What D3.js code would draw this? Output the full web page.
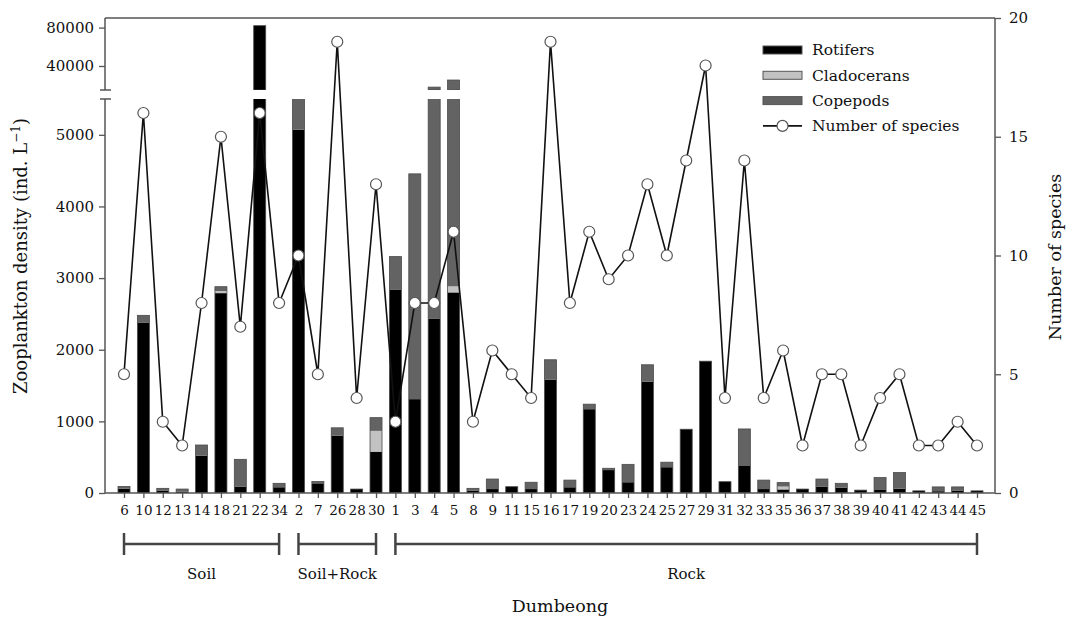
<!DOCTYPE html>
<html>
<head>
<meta charset="utf-8">
<script src="https://cdn.jsdelivr.net/npm/d3@7"></script>
<style>
  body { margin: 0; background: #fff; }
  svg { display: block; font-family: "DejaVu Serif", "Liberation Serif", serif; }
</style>
</head>
<body>
<svg width="1068" height="622"></svg>
<script>
// site ids in plotted order
var sites = ["6","10","12","13","14","18","21","22","34",
             "2","7","26","28","30",
             "1","3","4","5","8","9","11","15","16","17","19","20","23","24","25","27","29","31","32","33","35","36","37","38","39","40","41","42","43","44","45"];
// ind. per L
var rotifers    = [60,2380,30,20,520,2790,90,82000,80, 5070,135,800,55,577, 2835,1310,2430,2800,30,55,88,55,1580,80,1170,320,150,1555,360,890,1840,158,377,55,50,55,90,75,40,50,60,30,25,30,30];
var cladocerans = [0,0,0,0,0,30,0,0,0, 0,0,0,0,290, 0,0,0,85,0,0,0,0,0,0,0,0,0,0,0,0,0,0,0,0,40,0,0,0,0,0,0,0,0,0,0];
var copepods    = [30,100,35,35,150,60,380,0,55, 1000,25,110,0,185, 465,3145,15570,22500,35,140,0,95,280,100,70,25,250,235,70,0,0,0,517,125,55,0,105,60,0,165,225,0,60,55,0];
var species     = [5,16,3,2,8,15,7,16,8, 10,5,19,4,13, 3,8,8,11,3,6,5,4,19,8,11,9,10,13,10,14,18,4,14,4,6,2,5,5,2,4,5,2,2,3,2];
var groups = [{name:"Soil", from:"6", to:"34"}, {name:"Soil+Rock", from:"2", to:"30"}, {name:"Rock", from:"1", to:"45"}];
var lowTicks = [0,1000,2000,3000,4000,5000];
var highTicks = [40000,80000];
var rightTicks = [0,5,10,15,20];

var svg = d3.select("svg");
var pl = 105, pr = 995, pt = 18, pb = 493;
var gapLo = 99, gapHi = 90;   // axis break

var x = d3.scalePoint().domain(sites).range([124, 977]);
var yLow = d3.scaleLinear().domain([0, 5500]).range([pb, gapLo]);
var yHigh = d3.scaleLinear().domain([15000, 90000]).range([gapHi, pt]);
var yR = d3.scaleLinear().domain([0, 20]).range([pb, pt]);
var barW = 12;

var keys = ["rot","cla","cop"];
var colors = {rot:"#000", cla:"#c2c2c2", cop:"#636363"};
var rows = sites.map(function(s,i){ return {site:s, rot:rotifers[i], cla:cladocerans[i], cop:copepods[i], sp:species[i]}; });
var stack = d3.stack().keys(keys)(rows);

var defs = svg.append("defs");
defs.append("clipPath").attr("id","clipLow").append("rect")
  .attr("x", pl).attr("y", gapLo).attr("width", pr-pl).attr("height", pb-gapLo);
defs.append("clipPath").attr("id","clipHigh").append("rect")
  .attr("x", pl).attr("y", pt).attr("width", pr-pl).attr("height", gapHi-pt);

function drawBars(scale, clip) {
  var g = svg.append("g").attr("clip-path","url(#"+clip+")");
  g.selectAll("g.layer").data(stack).enter().append("g")
    .attr("class","layer")
    .attr("fill", function(d){ return colors[d.key]; })
    .selectAll("rect").data(function(d){ return d; }).enter()
    .filter(function(d){ return d[1] > d[0]; })
    .append("rect")
      .attr("x", function(d){ return x(d.data.site) - barW/2; })
      .attr("width", barW)
      .attr("y", function(d){ return scale(d[1]); })
      .attr("height", function(d){ return scale(d[0]) - scale(d[1]); });
  // outline
  g.selectAll("rect.outline").data(rows).enter().append("rect")
    .attr("class","outline")
    .attr("x", function(d){ return x(d.site) - barW/2; })
    .attr("width", barW)
    .attr("y", function(d){ return scale(d.rot+d.cla+d.cop); })
    .attr("height", function(d){ return Math.max(0, scale(scale.domain()[0]) - scale(d.rot+d.cla+d.cop)); })
    .attr("fill","none").attr("stroke","#4a4a4a").attr("stroke-width",0.8);
}
drawBars(yLow, "clipLow");
drawBars(yHigh, "clipHigh");

// frame + axes
var axisCol = "#555";
svg.append("line").attr("x1",pl).attr("x2",pr).attr("y1",pt).attr("y2",pt)
  .attr("stroke",axisCol).attr("stroke-width",1.5);
svg.append("line").attr("x1",pl).attr("x2",pr).attr("y1",pb).attr("y2",pb)
  .attr("stroke",axisCol).attr("stroke-width",1.5);
svg.append("line").attr("x1",pl).attr("x2",pl).attr("y1",gapLo).attr("y2",pb)
  .attr("stroke",axisCol).attr("stroke-width",1.5);
svg.append("line").attr("x1",pl).attr("x2",pl).attr("y1",pt).attr("y2",gapHi)
  .attr("stroke",axisCol).attr("stroke-width",1.5);
[gapHi, gapLo].forEach(function(y){
  svg.append("line").attr("x1",pl-5).attr("x2",pl+6).attr("y1",y).attr("y2",y)
    .attr("stroke",axisCol).attr("stroke-width",1.5);
});
svg.append("line").attr("x1",pr).attr("x2",pr).attr("y1",pt).attr("y2",pb)
  .attr("stroke",axisCol).attr("stroke-width",1.5);

function styleAxis(g, size) {
  g.select(".domain").remove();
  g.selectAll(".tick line").attr("stroke",axisCol).attr("stroke-width",1.3);
  g.selectAll(".tick text").attr("fill","#111")
    .style("font-family",'"DejaVu Serif", serif').style("font-size", size+"px");
}
svg.append("g").attr("transform","translate("+pl+",0)")
  .call(d3.axisLeft(yLow).tickValues(lowTicks).tickSize(6).tickPadding(5).tickFormat(d3.format("d")))
  .call(styleAxis, 15);
svg.append("g").attr("transform","translate("+pl+",0)")
  .call(d3.axisLeft(yHigh).tickValues(highTicks).tickSize(6).tickPadding(5).tickFormat(d3.format("d")))
  .call(styleAxis, 15);
svg.append("g").attr("transform","translate("+pr+",0)")
  .call(d3.axisRight(yR).tickValues(rightTicks).tickSize(6).tickPadding(8))
  .call(styleAxis, 15);
svg.append("g").attr("transform","translate(0,"+pb+")")
  .call(d3.axisBottom(x).tickSize(5).tickPadding(7))
  .call(styleAxis, 13.5);

// species line
svg.append("path").datum(rows)
  .attr("fill","none").attr("stroke","#111").attr("stroke-width",1.6)
  .attr("d", d3.line().x(function(d){ return x(d.site); }).y(function(d){ return yR(d.sp); }));
svg.selectAll("circle.sp").data(rows).enter().append("circle")
  .attr("class","sp")
  .attr("cx", function(d){ return x(d.site); })
  .attr("cy", function(d){ return yR(d.sp); })
  .attr("r", 5.5)
  .attr("fill","#fff").attr("stroke","#555").attr("stroke-width",1.2);

// group brackets
var by = 544;
groups.forEach(function(gr){
  var x1 = x(gr.from), x2 = x(gr.to);
  var g = svg.append("g").attr("stroke","#444").attr("stroke-width",2.5);
  g.append("line").attr("x1",x1).attr("x2",x2).attr("y1",by).attr("y2",by);
  g.append("line").attr("x1",x1).attr("x2",x1).attr("y1",by-11).attr("y2",by+11);
  g.append("line").attr("x1",x2).attr("x2",x2).attr("y1",by-11).attr("y2",by+11);
  svg.append("text").attr("x",(x1+x2)/2).attr("y",579).attr("text-anchor","middle")
    .style("font-size","15px").attr("fill","#111").text(gr.name);
});

// titles
svg.append("text").attr("x",560).attr("y",612).attr("text-anchor","middle")
  .style("font-size","17.5px").attr("fill","#111").text("Dumbeong");
var lt = svg.append("text").attr("transform","translate(27,256) rotate(-90)")
  .attr("text-anchor","middle").style("font-size","18px").attr("fill","#111");
lt.append("tspan").text("Zooplankton density (ind. L");
lt.append("tspan").attr("dy",-7).style("font-size","12px").text("\u22121");
lt.append("tspan").attr("dy",7).text(")");
svg.append("text").attr("transform","translate(1061,257) rotate(-90)")
  .attr("text-anchor","middle").style("font-size","17.5px").attr("fill","#111").text("Number of species");

// legend
var legItems = [{label:"Rotifers", key:"rot"}, {label:"Cladocerans", key:"cla"}, {label:"Copepods", key:"cop"}, {label:"Number of species", key:"line"}];
var leg = svg.append("g").attr("transform","translate(763,50)");
legItems.forEach(function(it, i){
  var gy = i*25.3;
  if (it.key === "line") {
    leg.append("line").attr("x1",0).attr("x2",39).attr("y1",gy).attr("y2",gy)
      .attr("stroke","#111").attr("stroke-width",1.6);
    leg.append("circle").attr("cx",19.5).attr("cy",gy).attr("r",5.5)
      .attr("fill","#fff").attr("stroke","#555").attr("stroke-width",1.2);
  } else {
    leg.append("rect").attr("x",0).attr("y",gy-4).attr("width",39).attr("height",8)
      .attr("fill",colors[it.key]).attr("stroke","#555").attr("stroke-width",1);
  }
  leg.append("text").attr("x",49).attr("y",gy).attr("dy","0.35em")
    .style("font-size","15.5px").attr("fill","#111").text(it.label);
});
</script>
</body>
</html>
